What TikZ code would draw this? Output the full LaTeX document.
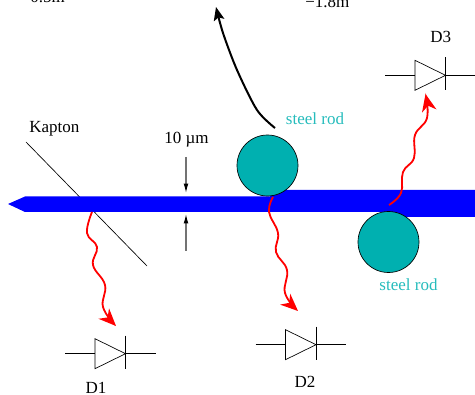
\documentclass[tikz,border=0pt]{standalone}
\usepackage{fontspec}
\setmainfont{Liberation Serif}
\usetikzlibrary{arrows.meta,positioning}
\definecolor{rodteal}{RGB}{0,176,176}
\tikzset{
  steel-rod/.style={circle, draw=black, fill=rodteal, line width=0.5pt, minimum size=45.75pt, inner sep=0pt},
  rod-label/.style={font=\fontsize{12.75}{14}\selectfont, text=rodteal!85!white, inner sep=0pt},
  plain-label/.style={font=\fontsize{12.75}{14}\selectfont, inner sep=0pt},
  photon/.style={draw=red, line width=1.35pt, -{Stealth[length=13pt,width=11pt,inset=4pt]}},
  gap-arrow/.style={draw=black!55, line width=0.8pt, -{Latex[black,length=7pt,width=3.5pt]}}
}
% diode symbol, drawn around its centre
\newcommand{\diode}[2]{
  \coordinate (#1) at (#2);
  \draw[line width=0.5pt] ([xshift=-34pt]#1) -- ([xshift=34pt]#1);
  \draw[line width=0.5pt, fill=white] ([shift={(-15.5,-15)}]#1) -- ([shift={(15,0)}]#1) -- ([shift={(-15.5,15)}]#1) -- cycle;
  \draw[line width=0.7pt] ([shift={(15,-18)}]#1) -- ([shift={(15,15)}]#1);
}

\begin{document}
\begin{tikzpicture}[>=Latex, x=0.75pt, y=-0.75pt]
  \useasboundingbox (0,0) rectangle (475,395);

  % Kapton foil
  \coordinate (foilA) at (26,142);
  \coordinate (foilB) at (147,266);
  \draw[line width=0.5pt] (foilA) -- (foilB);
  \node[plain-label, anchor=west] (kapton) at (29,129) {Kapton};

  % Beam
  \fill[blue] (8,204) -- (25,196.5) -- (270,196.5) -- (270,190) -- (475,190) -- (475,217) -- (389,217) -- (389,212) -- (25,212) -- cycle;

  % Gap marks
  \node[plain-label] (gap) at (186.5,140) {10 µm};
  \coordinate (gapA) at (186,157);
  \coordinate (gapAend) at (186,193);
  \coordinate (gapB) at (186,251);
  \coordinate (gapBend) at (186,214);
  \draw[gap-arrow] (gapA) -- (gapAend);
  \draw[gap-arrow] (gapB) -- (gapBend);

  % Rods
  \node[steel-rod] (rodA) at (267.5,165.5) {};
  \node[steel-rod] (rodB) at (388.5,242) {};
  \node[rod-label] (rodAlabel) at (315,119) {steel rod};
  \node[rod-label] (rodBlabel) at (408.5,285) {steel rod};

  % Scattered beam
  \coordinate (bendA) at (275,128);
  \coordinate (bendB) at (216,7);
  \draw[line width=1.5pt, -{Stealth[length=10pt,width=8pt,inset=2pt]}] plot[smooth] coordinates {(bendA) (257,110) (237,70) (223,33) (bendB)};

  % Cropped distance labels
  \node[plain-label, anchor=base west] (distA) at (30,3) {0.5m};
  \node[plain-label, anchor=base west] (distB) at (305,8) {−1.8m};

  % Diodes
  \diode{dOne}{110.5,353.7}
  \diode{dTwo}{301,344.7}
  \diode{dThree}{430.5,75.3}
  \node[plain-label] (dOnelabel) at (96,388) {D1};
  \node[plain-label] (dTwolabel) at (305,381.5) {D2};
  \node[plain-label] (dThreelabel) at (440.7,37) {D3};

  % Photons
  \coordinate (gOne) at (92,212);
  \coordinate (gOneEnd) at (116,326);
  \draw[photon] plot[smooth, tension=0.7] coordinates {(gOne) (87,233) (97,247) (93,265) (105,285) (103,307) (gOneEnd)};
  \coordinate (gTwo) at (273,197);
  \coordinate (gTwoEnd) at (298,311);
  \draw[photon] plot[smooth, tension=0.7] coordinates {(gTwo) (269,212) (278,233) (276,252) (287,270) (285,293) (gTwoEnd)};
  \coordinate (gThree) at (389,205);
  \coordinate (gThreeEnd) at (425.5,94);
  \draw[photon] plot[smooth, tension=0.7] coordinates {(gThree) (401,193) (403,172) (414,158) (415,135) (427,118) (gThreeEnd)};
\end{tikzpicture}
\end{document}
